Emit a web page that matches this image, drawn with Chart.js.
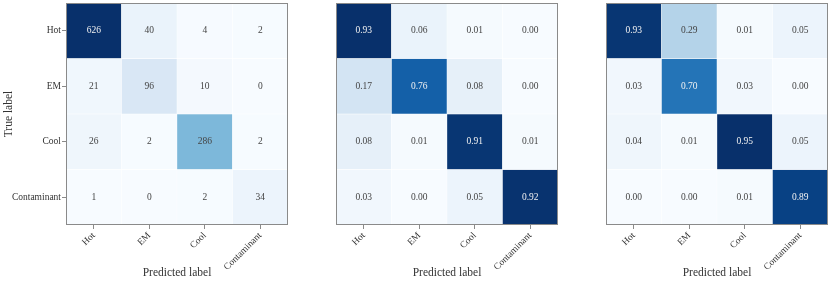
<!DOCTYPE html>
<html>
<head>
<meta charset="utf-8">
<script src="https://cdn.jsdelivr.net/npm/chart.js@4"></script>
<style>
  body { margin: 0; background: #fff; }
  .wrap { position: absolute; top: 0; height: 283px; }
</style>
</head>
<body>
<div class="wrap" style="left:0;width:290px"><canvas id="cm1"></canvas></div>
<div class="wrap" style="left:300px;width:270px"><canvas id="cm2"></canvas></div>
<div class="wrap" style="left:570px;width:260px"><canvas id="cm3"></canvas></div>
<script>
const classes = ['Hot', 'EM', 'Cool', 'Contaminant'];

// rows = true label, columns = predicted label
const counts = [
  [626, 40, 4, 2],
  [21, 96, 10, 0],
  [26, 2, 286, 2],
  [1, 0, 2, 34]
];
const recallNorm = [
  [0.93, 0.06, 0.01, 0.00],
  [0.17, 0.76, 0.08, 0.00],
  [0.08, 0.01, 0.91, 0.01],
  [0.03, 0.00, 0.05, 0.92]
];
const precisionNorm = [
  [0.93, 0.29, 0.01, 0.05],
  [0.03, 0.70, 0.03, 0.00],
  [0.04, 0.01, 0.95, 0.05],
  [0.00, 0.00, 0.01, 0.89]
];

const FONT = "'Liberation Serif', 'DejaVu Serif', serif";

// matplotlib "Blues"
const blues = ['#f7fbff', '#deebf7', '#c6dbef', '#9ecae1', '#6baed6', '#4292c6', '#2171b5', '#08519c', '#08306b'];
function hex(h) { return [1, 3, 5].map(i => parseInt(h.substr(i, 2), 16)); }
function bluesAt(t) {
  t = Math.max(0, Math.min(1, t));
  const p = t * (blues.length - 1);
  const i = Math.min(Math.floor(p), blues.length - 2);
  const f = p - i;
  const a = hex(blues[i]), b = hex(blues[i + 1]);
  const c = a.map((v, k) => Math.round(v + (b[k] - v) * f));
  return `rgb(${c[0]},${c[1]},${c[2]})`;
}

const frame = {
  id: 'frame',
  afterDraw(chart) {
    const { ctx, chartArea: a } = chart;
    ctx.save();
    ctx.strokeStyle = '#8a8a8a';
    ctx.lineWidth = 1;
    ctx.strokeRect(Math.round(a.left) + 0.5, Math.round(a.top) + 0.5, Math.round(a.width) - 1, Math.round(a.height) - 1);
    ctx.restore();
  }
};

const cellText = {
  id: 'cellText',
  afterDatasetsDraw(chart, args, opts) {
    const { ctx } = chart;
    ctx.save();
    ctx.font = '9.5px ' + FONT;
    ctx.textAlign = 'center';
    ctx.textBaseline = 'middle';
    chart.data.datasets.forEach((ds, r) => {
      chart.getDatasetMeta(r).data.forEach((el, c) => {
        const v = ds.values[c];
        const p = el.getCenterPoint();
        ctx.fillStyle = v > opts.vmax / 2 ? '#f2f2f2' : '#444';
        ctx.fillText(opts.decimals ? v.toFixed(2) : String(v), p.x, p.y);
      });
    });
    ctx.restore();
  }
};

function makeMatrix(id, matrix, decimals, showY, pad) {
  const vmax = Math.max(...matrix.flat());
  const datasets = matrix.map((row, r) => ({
    values: row,
    data: row.map(() => [r - 0.5, r + 0.5]),
    backgroundColor: row.map(v => bluesAt(v / vmax)),
    borderColor: 'rgba(255,255,255,0.7)',
    borderWidth: 0.5,
    borderSkipped: false,
    barPercentage: 1,
    categoryPercentage: 1,
    grouped: false
  }));
  return new Chart(document.getElementById(id), {
    type: 'bar',
    data: { labels: classes, datasets },
    options: {
      responsive: true,
      maintainAspectRatio: false,
      animation: false,
      layout: { padding: pad },
      plugins: {
        legend: { display: false },
        tooltip: { enabled: false },
        cellText: { vmax, decimals }
      },
      scales: {
        x: {
          grid: { display: true, drawOnChartArea: false, drawTicks: true, tickLength: 4, offset: false, color: '#8a8a8a' },
          border: { display: false },
          ticks: { minRotation: 45, maxRotation: 45, color: '#333', font: { family: FONT, size: 9.5 }, padding: 1 },
          title: { display: true, text: 'Predicted label', color: '#333', font: { family: FONT, size: 11.5 }, padding: { top: 0, bottom: 3 } },
          afterFit(s) { s.height = 58; s.paddingLeft = 0; s.paddingRight = 0; }
        },
        y: {
          display: showY,
          min: -0.5,
          max: 3.5,
          reverse: true,
          afterBuildTicks(s) { s.ticks = [0, 1, 2, 3].map(v => ({ value: v })); },
          grid: { display: true, drawOnChartArea: false, drawTicks: true, tickLength: 4, color: '#8a8a8a' },
          border: { display: false },
          ticks: { color: '#333', font: { family: FONT, size: 9.5 }, padding: 1, callback: v => classes[v] },
          title: { display: true, text: 'True label', color: '#333', font: { family: FONT, size: 11.5 }, padding: { top: 2, bottom: 0 } },
          afterFit(s) { s.width = showY ? 66 : 0; s.paddingTop = 0; s.paddingBottom = 0; }
        }
      }
    },
    plugins: [cellText, frame]
  });
}

makeMatrix('cm1', counts, false, true, { left: 0, right: 2, top: 3, bottom: 0 });
makeMatrix('cm2', recallNorm, true, false, { left: 36, right: 12, top: 3, bottom: 0 });
makeMatrix('cm3', precisionNorm, true, false, { left: 36, right: 2, top: 3, bottom: 0 });
</script>
</body>
</html>
